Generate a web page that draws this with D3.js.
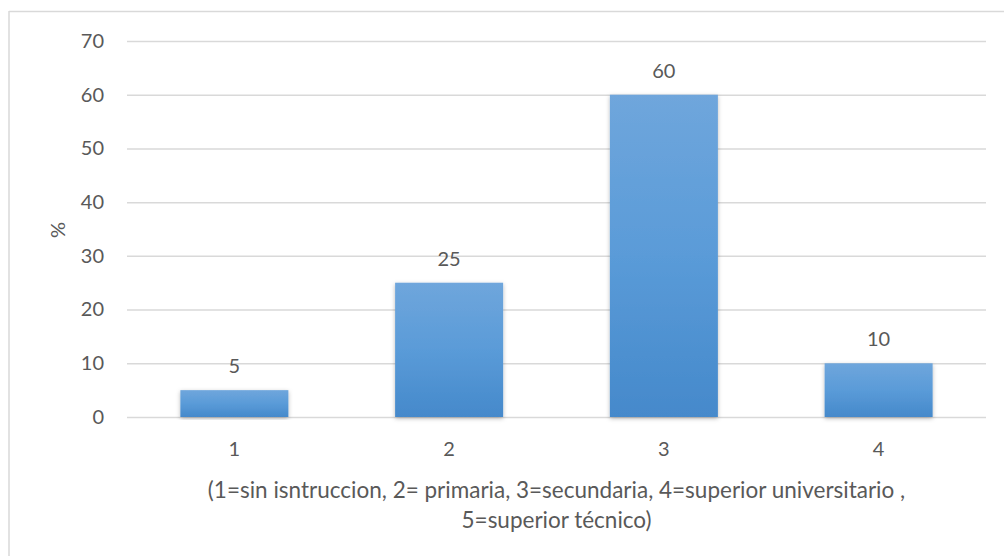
<!DOCTYPE html>
<html>
<head>
<meta charset="utf-8">
<script src="https://cdn.jsdelivr.net/npm/d3@7"></script>
<style>
  html, body { margin: 0; padding: 0; background: #ffffff; }
  svg { display: block; }
  text { font-family: Lato, "Open Sans", sans-serif; fill: #595959; }
</style>
</head>
<body>
<svg id="chart" width="1004" height="556"></svg>
<script>
// Education level categories and their percentages
const categories = ["1", "2", "3", "4"];
const values = [5, 25, 60, 10];
const yTicks = [0, 10, 20, 30, 40, 50, 60, 70];
const yAxisTitle = "%";
const xAxisTitle = [
  "(1=sin isntruccion, 2= primaria, 3=secundaria, 4=superior universitario ,",
  "5=superior técnico)"
];

const svg = d3.select("#chart");
const W = 1004, H = 556;
const margin = { left: 127, right: W - 986, top: 41, bottom: H - 417 };
const labelSize = 20;

// Frame lines along the top and left of the chart area
svg.append("line").attr("x1", 9).attr("x2", W).attr("y1", 11.5).attr("y2", 11.5)
  .attr("stroke", "#d9d9d9").attr("stroke-width", 1.5);
svg.append("line").attr("x1", 9).attr("x2", 9).attr("y1", 11).attr("y2", H)
  .attr("stroke", "#d9d9d9").attr("stroke-width", 1.5);

const x = d3.scaleBand()
  .domain(categories)
  .range([margin.left, W - margin.right])
  .paddingInner(0.497)
  .paddingOuter(0.2485);

const y = d3.scaleLinear()
  .domain([0, 70])
  .range([H - margin.bottom, margin.top]);

// Bar gradient and soft shadow
const defs = svg.append("defs");
const grad = defs.append("linearGradient").attr("id", "barFill")
  .attr("x1", 0).attr("y1", 0).attr("x2", 0).attr("y2", 1);
grad.append("stop").attr("offset", "0%").attr("stop-color", "#6fa6dc");
grad.append("stop").attr("offset", "50%").attr("stop-color", "#5a9bd8");
grad.append("stop").attr("offset", "100%").attr("stop-color", "#4589cb");

const shadow = defs.append("filter").attr("id", "barShadow")
  .attr("x", "-10%").attr("y", "-10%").attr("width", "120%").attr("height", "120%");
shadow.append("feDropShadow").attr("dx", 0).attr("dy", 1.5)
  .attr("stdDeviation", 2).attr("flood-color", "#000").attr("flood-opacity", 0.28);

// Horizontal gridlines with labels
const yAxis = d3.axisLeft(y)
  .tickValues(yTicks)
  .tickSize(-(W - margin.left - margin.right))
  .tickPadding(23);

const gy = svg.append("g")
  .attr("transform", `translate(${margin.left},0)`)
  .call(yAxis);
gy.select(".domain").remove();
gy.selectAll(".tick line").attr("stroke", "#d9d9d9").attr("stroke-width", 1.5);
gy.selectAll(".tick text")
  .attr("font-size", labelSize)
  .style("font-family", "Lato, 'Open Sans', sans-serif")
  .attr("fill", "#595959");

// Category labels below the baseline
const xAxis = d3.axisBottom(x).tickSize(0).tickPadding(25);
const gx = svg.append("g")
  .attr("transform", `translate(0,${y(0)})`)
  .call(xAxis);
gx.select(".domain").remove();
gx.selectAll(".tick text")
  .attr("font-size", labelSize)
  .style("font-family", "Lato, 'Open Sans', sans-serif")
  .attr("fill", "#595959");

// Bars
svg.append("g").selectAll("rect")
  .data(values)
  .join("rect")
  .attr("x", (d, i) => x(categories[i]))
  .attr("y", d => y(d))
  .attr("width", x.bandwidth())
  .attr("height", d => y(0) - y(d))
  .attr("fill", "url(#barFill)")
  .attr("filter", "url(#barShadow)");

// Value labels above bars
svg.append("g").selectAll("text")
  .data(values)
  .join("text")
  .attr("x", (d, i) => x(categories[i]) + x.bandwidth() / 2)
  .attr("y", d => y(d) - 17)
  .attr("text-anchor", "middle")
  .attr("font-size", labelSize)
  .text(d => d);

// Axis titles
svg.append("text")
  .attr("transform", "translate(65,230) rotate(-90)")
  .attr("text-anchor", "middle")
  .attr("font-size", labelSize)
  .text(yAxisTitle);

const cx = (margin.left + W - margin.right) / 2;
svg.append("g").selectAll("text")
  .data(xAxisTitle)
  .join("text")
  .attr("x", cx)
  .attr("y", (d, i) => 498 + i * 30)
  .attr("text-anchor", "middle")
  .attr("font-size", 22.5)
  .text(d => d);
</script>
</body>
</html>
